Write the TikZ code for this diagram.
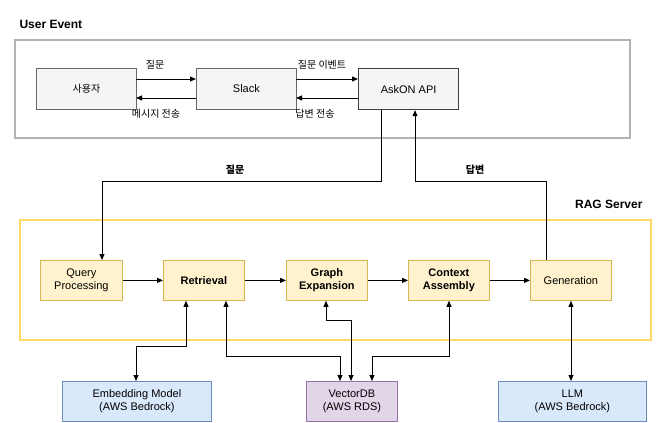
\documentclass[tikz,border=0pt]{standalone}
\usepackage{fontspec}
\setmainfont{Liberation Sans}
\newfontfamily\kr{Noto Sans CJK KR}
\usetikzlibrary{arrows.meta}
\definecolor{ragd}{RGB}{214,182,86}
\definecolor{ragf}{RGB}{255,242,204}
\definecolor{ragg}{RGB}{255,217,102}
\definecolor{blud}{RGB}{108,142,191}
\definecolor{bluf}{RGB}{218,232,252}
\definecolor{purd}{RGB}{150,115,166}
\definecolor{purf}{RGB}{225,213,231}
\begin{document}
\begin{tikzpicture}[x=1pt,y=-1pt,
  every node/.style={font=\fontsize{11}{13}\selectfont},
  box/.style={draw=#1,line width=0.8pt,inner sep=0pt,anchor=north west},
  usr/.style={box=black!60,fill=black!4},
  rag/.style={box=ragd,fill=ragf,align=center},
  blu/.style={box=blud,fill=bluf,align=center},
  pur/.style={box=purd,fill=purf,align=center},
  arr/.style={-{Triangle[length=6pt,width=5pt]},line width=0.8pt},
  barr/.style={{Triangle[length=6pt,width=5pt]}-{Triangle[length=6pt,width=5pt]},line width=0.8pt},
  lbl/.style={font=\fontsize{10}{12}\selectfont\kr}]
\useasboundingbox (0,0) rectangle (667,423);
% groups
\node[anchor=west,font=\fontsize{12}{14}\selectfont\bfseries] (ue) at (16,24) {User Event};
\draw[black!30,line width=2pt] (15,40) rectangle (630,138);
\node[anchor=east,font=\fontsize{12}{14}\selectfont\bfseries] (rs) at (646,204) {RAG Server};
\draw[ragg,line width=2pt] (20,220) rectangle (651,340);
% user nodes
\node[usr,minimum width=100pt,minimum height=41pt] (u) at (36,68) {};
\node[lbl] at (u.center) {사용자};
\node[usr,minimum width=100pt,minimum height=41pt] (s) at (196,68) {};
\node at (s.center) {Slack};
\node[box=black!75,fill=black!4,line width=1.2pt,minimum width=100pt,minimum height=41pt] (a) at (358,68) {};
\node at (a.center) {AskON API};
\draw[arr] (136,79) -- (196,79);
\node[lbl] at (155,65) {질문};
\draw[arr] (296,79) -- (358,79);
\node[lbl] at (322,65) {질문 이벤트};
\draw[arr] (196,98) -- (136,98);
\node[lbl] at (156,114) {메시지 전송};
\draw[arr] (358,98) -- (296,98);
\node[lbl] at (315,114) {답변 전송};
% rag nodes
\node[rag,minimum width=82pt,minimum height=40pt] (q) at (40,260) {Query\\Processing};
\node[rag,minimum width=81pt,minimum height=40pt,font=\fontsize{11}{13}\selectfont\bfseries] (r) at (163,260) {Retrieval};
\node[rag,minimum width=81pt,minimum height=40pt,font=\fontsize{11}{13}\selectfont\bfseries] (g) at (286,260) {Graph\\Expansion};
\node[rag,minimum width=81pt,minimum height=40pt,font=\fontsize{11}{13}\selectfont\bfseries] (c) at (408,260) {Context\\Assembly};
\node[rag,minimum width=81pt,minimum height=40pt] (gen) at (530,260) {Generation};
\draw[arr] (q) -- (r);
\draw[arr] (r) -- (g);
\draw[arr] (g) -- (c);
\draw[arr] (c) -- (gen);
% bottom
\node[blu,minimum width=149pt,minimum height=40pt] (e) at (62,381) {Embedding Model\\(AWS Bedrock)};
\node[pur,minimum width=91pt,minimum height=40pt] (v) at (306,381) {VectorDB\\(AWS RDS)};
\node[blu,minimum width=148pt,minimum height=40pt] (l) at (498,381) {LLM\\(AWS Bedrock)};
% query / answer
\draw[arr] (a.south -| 381,0) -- (381,181) -- (102,181) -- (q.north -| 102,0);
\node[font=\fontsize{10}{12}\selectfont\kr\bfseries] at (235,170) {질문};
\draw[arr] (gen.north -| 546,0) -- (546,181) -- (415,181) -- (a.south -| 415,0);
\node[font=\fontsize{10}{12}\selectfont\kr\bfseries] at (475,170) {답변};
% db links
\draw[barr] (r.south -| 186,0) -- (186,346) -- (136,346) -- (e.north -| 136,0);
\draw[barr] (r.south -| 226,0) -- (226,356) -- (340,356) -- (v.north -| 340,0);
\draw[barr] (g.south -| 326,0) -- (326,320) -- (351,320) -- (v.north -| 351,0);
\draw[barr] (c.south -| 449,0) -- (449,356) -- (372,356) -- (v.north -| 372,0);
\draw[barr] (gen.south -| 571,0) -- (l.north -| 571,0);
\end{tikzpicture}
\end{document}
